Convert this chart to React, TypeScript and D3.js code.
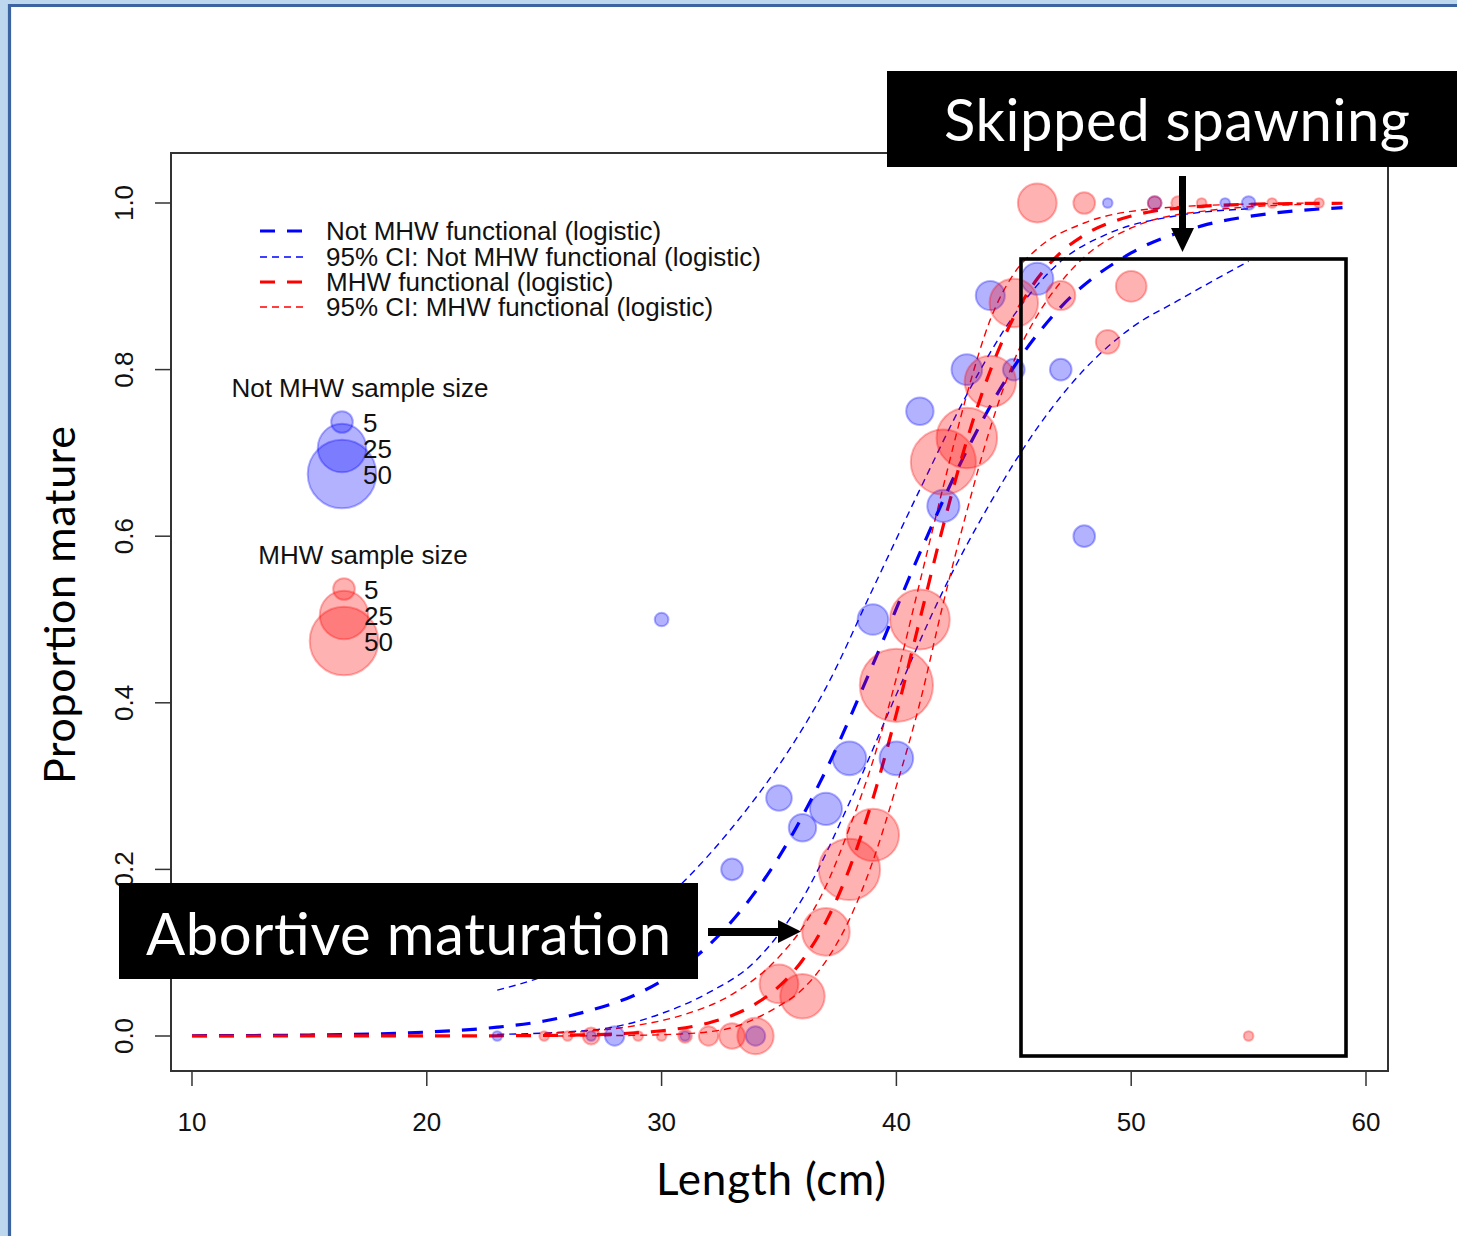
import React from 'react';
import * as d3 from 'd3';

// ---- data: Not MHW (blue) observations ----
const notMhwLength = [23, 27, 28, 30, 31, 33, 34, 35, 36, 37, 38, 39, 40, 41, 42, 43, 44, 45, 46, 47, 48, 49, 51, 54, 55];
const notMhwMature = [0, 0, 0, 1, 0, 1, 0, 2, 2, 3, 4, 5, 4, 6, 7, 8, 8, 4, 10, 4, 3, 1, 2, 1, 2];
const notMhwN = [1, 1, 4, 2, 1, 5, 4, 7, 8, 11, 12, 10, 12, 8, 11, 10, 9, 5, 11, 5, 5, 1, 2, 1, 2];

// ---- data: MHW (red) observations ----
const mhwLength = [25, 26, 27, 29, 30, 31, 32, 33, 34, 35, 36, 37, 38, 39, 40, 41, 42, 43, 44, 45, 46, 47, 48, 49, 50, 51, 52, 53, 55, 56, 58];
const mhwMature = [0, 0, 0, 0, 0, 0, 0, 0, 0, 1, 1, 3, 8, 7, 24, 19, 31, 28, 22, 22, 16, 8, 5, 5, 9, 2, 2, 1, 0, 1, 1];
const mhwN = [1, 1, 3, 1, 1, 2, 4, 7, 14, 16, 21, 24, 40, 29, 57, 38, 45, 39, 28, 25, 16, 9, 5, 6, 10, 2, 2, 1, 1, 1, 1];

// ---- fitted curves ----
const notMhwFitLength = [10, 15, 20, 23, 25, 27, 29, 31, 33, 35, 37, 39, 41, 43, 45, 47, 50, 53, 56, 59];
const notMhwFitProp = [0.0003, 0.0012, 0.0047, 0.0106, 0.018, 0.031, 0.051, 0.085, 0.138, 0.215, 0.319, 0.446, 0.58, 0.703, 0.803, 0.875, 0.94, 0.9725, 0.9876, 0.9944];
const notMhwUpperLength = [23, 25, 27, 29, 31, 33, 35, 37, 39, 41, 43, 45, 47, 49, 52, 55];
const notMhwUpperProp = [0.055, 0.072, 0.098, 0.137, 0.187, 0.25, 0.325, 0.418, 0.537, 0.656, 0.77, 0.865, 0.93, 0.963, 0.985, 0.993];
const notMhwLowerLength = [23, 26, 28, 30, 32, 34, 36, 38, 40, 42, 44, 46, 48, 50, 52, 55];
const notMhwLowerProp = [0.002, 0.005, 0.011, 0.027, 0.052, 0.09, 0.165, 0.28, 0.41, 0.535, 0.64, 0.73, 0.8, 0.85, 0.883, 0.93];

const mhwFitLength = [10, 20, 25, 28, 30, 32, 33, 34, 35, 36, 37, 38, 39, 40, 41, 42, 43, 44, 45, 46, 47, 48, 50, 53, 56, 59];
const mhwFitProp = [0, 0.0001, 0.0006, 0.0025, 0.0063, 0.0157, 0.0246, 0.0385, 0.0595, 0.091, 0.137, 0.201, 0.285, 0.387, 0.5, 0.613, 0.715, 0.799, 0.863, 0.909, 0.9405, 0.9615, 0.9843, 0.996, 0.999, 0.9997];
const mhwUpperLength = [25, 27, 29, 31, 33, 35, 36, 37, 38, 39, 40, 41, 42, 43, 44, 45, 46, 48, 50, 54, 58];
const mhwUpperProp = [0.003, 0.006, 0.013, 0.026, 0.05, 0.095, 0.13, 0.18, 0.25, 0.33, 0.43, 0.545, 0.66, 0.77, 0.86, 0.915, 0.945, 0.976, 0.99, 0.998, 1.0];
const mhwLowerLength = [25, 28, 30, 32, 33, 34, 35, 36, 37, 38, 39, 40, 41, 42, 43, 44, 45, 46, 47, 48, 50, 53, 58];
const mhwLowerProp = [0, 0.0005, 0.0015, 0.005, 0.01, 0.021, 0.036, 0.056, 0.09, 0.14, 0.21, 0.3, 0.4, 0.52, 0.63, 0.73, 0.81, 0.865, 0.905, 0.935, 0.97, 0.99, 0.999];

// ---- axes and legends ----
const xTicks = [10, 20, 30, 40, 50, 60];
const yTicks = [0, 0.2, 0.4, 0.6, 0.8, 1.0];
const lineLegendLabels = [
  'Not MHW functional (logistic)',
  '95% CI: Not MHW functional (logistic)',
  'MHW functional (logistic)',
  '95% CI: MHW functional (logistic)',
];
const sizeLegendValues = [5, 25, 50];

const BLUE = '#0000ff';
const RED = '#ff0000';
const BLUE_A = 'rgba(0,0,255,0.3)';
const RED_A = 'rgba(255,0,0,0.3)';
const RFONT = "'Liberation Sans', Arial, sans-serif";
const CFONT = "Lato, 'Open Sans', sans-serif";
const THICK_DASH = '15 12';
const THIN_DASH = '7 5';

export default function App() {
  const W = 1457;
  const H = 1236;
  const x = d3.scaleLinear().domain([9.106, 60.937]).range([171, 1388]);
  const y = d3.scaleLinear().domain([0, 1]).range([1036, 203]);
  const r = d3.scaleSqrt().domain([0, 50]).range([0, 34.3]);
  const line = d3
    .line<[number, number]>()
    .x((d) => x(d[0]))
    .y((d) => y(d[1]))
    .curve(d3.curveMonotoneX);
  const zip = (a: number[], b: number[]) => a.map((v, i) => [v, b[i]] as [number, number]);

  const curves = [
    { l: notMhwUpperLength, p: notMhwUpperProp, c: BLUE, w: 1.4, d: THIN_DASH },
    { l: notMhwLowerLength, p: notMhwLowerProp, c: BLUE, w: 1.4, d: THIN_DASH },
    { l: notMhwFitLength, p: notMhwFitProp, c: BLUE, w: 3.2, d: THICK_DASH },
    { l: mhwUpperLength, p: mhwUpperProp, c: RED, w: 1.4, d: THIN_DASH },
    { l: mhwLowerLength, p: mhwLowerProp, c: RED, w: 1.4, d: THIN_DASH },
    { l: mhwFitLength, p: mhwFitProp, c: RED, w: 3.2, d: THICK_DASH },
  ];

  const plotL = 171, plotR = 1388, plotT = 153, plotB = 1071;

  const legendRows = [
    { c: BLUE, w: 3.2, d: THICK_DASH },
    { c: BLUE, w: 1.4, d: THIN_DASH },
    { c: RED, w: 3.2, d: THICK_DASH },
    { c: RED, w: 1.4, d: THIN_DASH },
  ];
  const legendY = [231, 257, 282, 307];

  return (
    <svg
      width={W}
      height={H}
      viewBox={`0 0 ${W} ${H}`}
      style={{ position: 'absolute', left: 0, top: 0, display: 'block', background: '#fff' }}
    >
      <rect x={0} y={0} width={W} height={H} fill="#fff" />
      {/* slide frame */}
      <rect x={0} y={0} width={8} height={H} fill="#bdd7ee" />
      <rect x={0} y={0} width={W} height={4} fill="#bdd7ee" />
      <line x1={9.5} y1={4} x2={9.5} y2={H} stroke="#3b64a0" strokeWidth={3.2} />
      <line x1={8} y1={5.5} x2={W} y2={5.5} stroke="#3b64a0" strokeWidth={3} />

      {/* curves */}
      <g fill="none">
        {curves.map((cv, i) => (
          <path
            key={i}
            d={line(zip(cv.l, cv.p)) || ''}
            stroke={cv.c}
            strokeWidth={cv.w}
            strokeDasharray={cv.d}
          />
        ))}
      </g>

      {/* observations */}
      <g>
        {notMhwLength.map((l, i) => (
          <circle
            key={'b' + i}
            cx={x(l)}
            cy={y(notMhwMature[i] / notMhwN[i])}
            r={r(notMhwN[i])}
            fill={BLUE_A}
            stroke={BLUE_A}
            strokeWidth={2}
          />
        ))}
        {mhwLength.map((l, i) => (
          <circle
            key={'r' + i}
            cx={x(l)}
            cy={y(mhwMature[i] / mhwN[i])}
            r={r(mhwN[i])}
            fill={RED_A}
            stroke={RED_A}
            strokeWidth={2}
          />
        ))}
      </g>

      {/* plot box */}
      <rect x={plotL} y={plotT} width={plotR - plotL} height={plotB - plotT} fill="none" stroke="#333" strokeWidth={2} />

      {/* x axis */}
      <g fontFamily={RFONT} fontSize={26} fill="#111">
        {xTicks.map((t) => (
          <g key={t}>
            <line x1={x(t)} x2={x(t)} y1={plotB} y2={plotB + 15} stroke="#333" strokeWidth={1.5} />
            <text x={x(t)} y={1131} textAnchor="middle">
              {t}
            </text>
          </g>
        ))}
        <line x1={x(10)} x2={x(60)} y1={plotB} y2={plotB} stroke="#333" strokeWidth={2} />
      </g>
      {/* y axis */}
      <g fontFamily={RFONT} fontSize={26} fill="#111">
        {yTicks.map((t) => (
          <g key={t}>
            <line x1={plotL} x2={plotL - 16} y1={y(t)} y2={y(t)} stroke="#333" strokeWidth={1.5} />
            <text transform={`translate(133,${y(t)}) rotate(-90)`} textAnchor="middle">
              {t.toFixed(1)}
            </text>
          </g>
        ))}
      </g>

      {/* axis titles */}
      <text x={771} y={1195} textAnchor="middle" fontFamily={CFONT} fontSize={44} fill="#000" textLength={230}>
        Length (cm)
      </text>
      <text
        transform="translate(75,605) rotate(-90)"
        textAnchor="middle"
        fontFamily={CFONT}
        fontSize={43}
        fill="#000"
        textLength={358}
      >
        Proportion mature
      </text>

      {/* line legend */}
      <g fontFamily={RFONT} fontSize={26} fill="#111">
        {legendRows.map((row, i) => (
          <g key={i}>
            <line
              x1={260}
              x2={305}
              y1={legendY[i]}
              y2={legendY[i]}
              stroke={row.c}
              strokeWidth={row.w}
              strokeDasharray={row.d}
            />
            <text x={326} y={legendY[i]} dy="0.35em">
              {lineLegendLabels[i]}
            </text>
          </g>
        ))}
      </g>

      {/* size legends */}
      <g fontFamily={RFONT} fontSize={26} fill="#111">
        <text x={360} y={388} dy="0.35em" textAnchor="middle">
          Not MHW sample size
        </text>
        {sizeLegendValues.map((v, i) => (
          <circle key={'lb' + i} cx={342} cy={422 + i * 26} r={r(v)} fill={BLUE_A} stroke={BLUE_A} strokeWidth={2} />
        ))}
        {sizeLegendValues.map((v, i) => (
          <text key={'tb' + i} x={363} y={423 + i * 26} dy="0.35em">
            {v}
          </text>
        ))}
        <text x={363} y={555} dy="0.35em" textAnchor="middle">
          MHW sample size
        </text>
        {sizeLegendValues.map((v, i) => (
          <circle key={'lr' + i} cx={344} cy={589 + i * 26} r={r(v)} fill={RED_A} stroke={RED_A} strokeWidth={2} />
        ))}
        {sizeLegendValues.map((v, i) => (
          <text key={'tr' + i} x={364} y={590 + i * 26} dy="0.35em">
            {v}
          </text>
        ))}
      </g>

      {/* skipped spawning annotation */}
      <rect x={1021} y={259} width={325} height={797} fill="none" stroke="#000" strokeWidth={3.6} />
      <rect x={887} y={71} width={W - 887} height={96} fill="#000" />
      <text x={944} y={141} fontFamily={CFONT} fontSize={58} fill="#fff" textLength={466}>
        Skipped spawning
      </text>
      <rect x={1179} y={176} width={7} height={54} fill="#000" />
      <polygon points="1171,228 1194,228 1182.5,252" fill="#000" />

      {/* abortive maturation annotation */}
      <rect x={119} y={883} width={579} height={96} fill="#000" />
      <text x={146} y={955} fontFamily={CFONT} fontSize={58} fill="#fff" textLength={525}>
        Abortive maturation
      </text>
      <rect x={708} y={928} width={72} height={8} fill="#000" />
      <polygon points="778,920 778,943 801,931.5" fill="#000" />
    </svg>
  );
}
